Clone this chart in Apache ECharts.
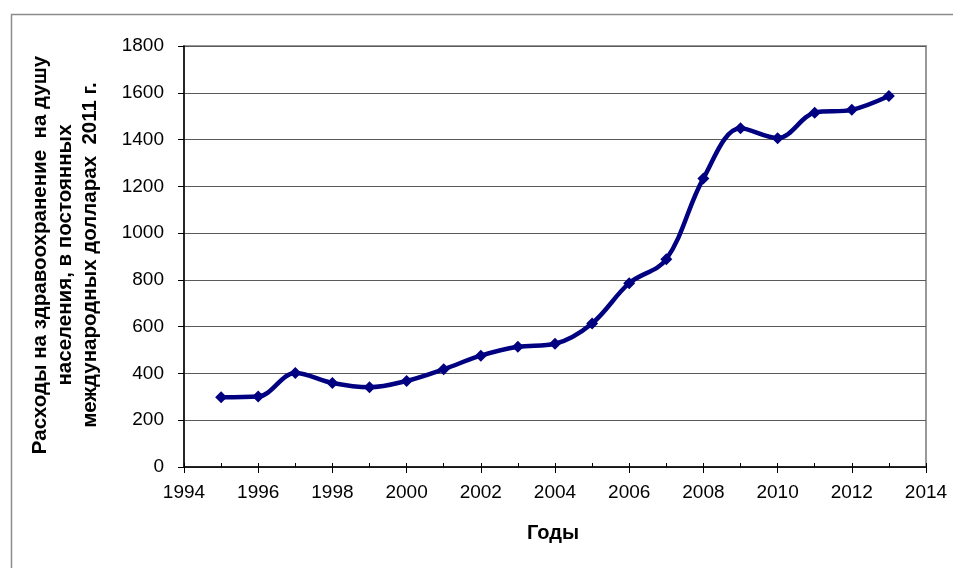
<!DOCTYPE html>
<html>
<head>
<meta charset="utf-8">
<script src="https://cdn.jsdelivr.net/npm/echarts@6/dist/echarts.min.js"></script>
<style>
  html, body { margin: 0; padding: 0; background: #fff; }
  #chart { width: 953px; height: 568px; }
</style>
</head>
<body>
<div id="chart"></div>
<script>
// Health expenditure per capita, constant 2011 international dollars
const years = [1995, 1996, 1997, 1998, 1999, 2000, 2001, 2002, 2003, 2004,
               2005, 2006, 2007, 2008, 2009, 2010, 2011, 2012, 2013];
const spending = [298, 301, 402, 359, 341, 368, 418, 476, 514, 527,
                  614, 786, 888, 1234, 1448, 1406, 1515, 1527, 1586];

const xTicks = { min: 1994, max: 2014, step: 2 };
const yTicks = { min: 0, max: 1800, step: 200 };

const yTitle = 'Расходы на здравоохранение  на душу\nнаселения, в постоянных\nмеждународных долларах  2011 г.';
const xTitle = 'Годы';

const font = '"Liberation Sans", Arial, sans-serif';
const chart = echarts.init(document.getElementById('chart'), null, { renderer: 'canvas' });

chart.setOption({
  animation: false,
  backgroundColor: '#fff',
  grid: {
    left: 184, top: 46, width: 742, height: 421,
    show: true, borderColor: '#999', borderWidth: 2, backgroundColor: 'transparent'
  },
  graphic: [
    {
      type: 'rect', left: 9, top: 12, silent: true,
      shape: { width: 960, height: 620 },
      style: { fill: 'none', stroke: '#8c8c8c', lineWidth: 1.5 }
    },
    {
      type: 'text', x: 553, y: 533,
      style: {
        text: xTitle, font: 'bold 20px ' + font, fill: '#000',
        align: 'center', verticalAlign: 'middle'
      }
    },
    {
      type: 'text', rotation: Math.PI / 2, x: 65, y: 255,
      style: {
        text: yTitle, font: 'bold 20.5px ' + font, fill: '#000',
        align: 'center', verticalAlign: 'middle', lineHeight: 25
      }
    }
  ],
  xAxis: [
    {
      type: 'value', min: xTicks.min, max: xTicks.max, interval: xTicks.step,
      axisLine: { show: true, lineStyle: { color: '#000', width: 1.5 } },
      axisTick: { show: true, inside: false, length: 6, lineStyle: { color: '#000' } },
      axisLabel: { color: '#000', fontSize: 19, fontFamily: font, margin: 16, formatter: v => String(v) },
      splitLine: { show: false }
    },
    {
      // yearly tick marks pointing into the plot
      type: 'value', min: xTicks.min, max: xTicks.max, interval: 1,
      position: 'bottom',
      axisLine: { show: false },
      axisTick: { show: true, inside: true, length: 4, lineStyle: { color: '#000' } },
      axisLabel: { show: false },
      splitLine: { show: false }
    }
  ],
  yAxis: {
    type: 'value', min: yTicks.min, max: yTicks.max, interval: yTicks.step,
    axisLine: { show: true, lineStyle: { color: '#000', width: 1.5 } },
    axisTick: { show: true, inside: false, length: 6, lineStyle: { color: '#000' } },
    axisLabel: { color: '#000', fontSize: 19, fontFamily: font, margin: 20, formatter: v => String(v) },
    splitLine: { show: true, lineStyle: { color: '#5a5a5a', width: 1 } }
  },
  series: [{
    type: 'line',
    data: years.map((y, i) => [y, spending[i]]),
    smooth: 0.35,
    symbol: 'diamond',
    symbolSize: 12,
    lineStyle: { color: '#000080', width: 4.5 },
    itemStyle: { color: '#000080' },
    z: 5
  }]
});
</script>
</body>
</html>
